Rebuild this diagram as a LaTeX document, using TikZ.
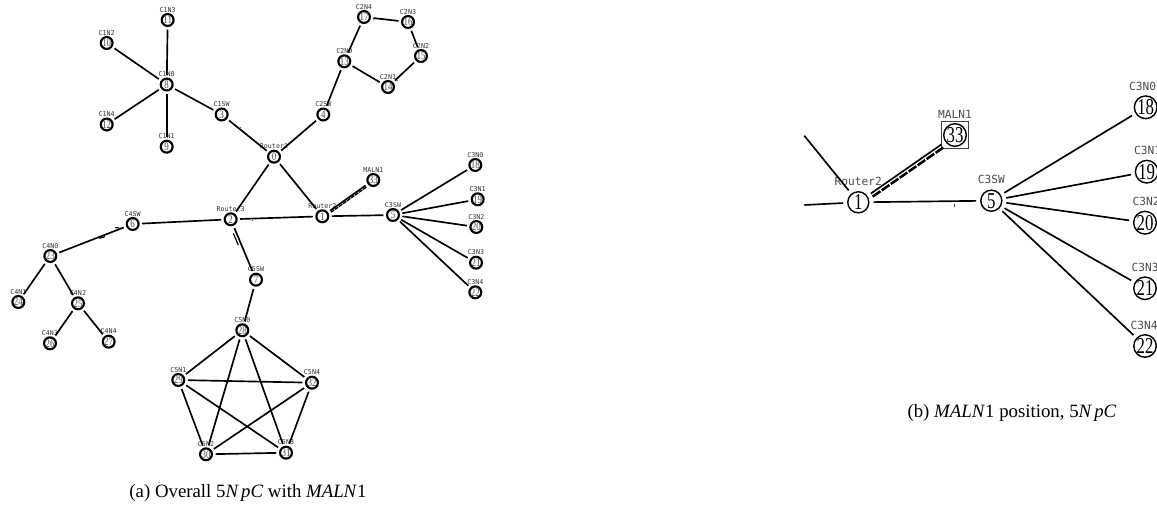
\documentclass[tikz,border=0pt]{standalone}
\usepackage{fontspec}
\setmainfont{Liberation Serif}
\newfontfamily\lblfont{DejaVu Sans Mono}
\newfontfamily\numfont{Liberation Serif}
\tikzset{
  x=0.75pt,y=-0.75pt,
  sn/.style={circle,draw=black,line width=1.6pt,fill=white,minimum size=8.9pt,inner sep=0pt,outer sep=2.7pt},
  bn/.style={circle,draw=black,line width=1.05pt,fill=white,minimum size=15.8pt,inner sep=0pt,outer sep=3.5pt},
  edgeline/.style={draw=black,line width=1.25pt},
  bedge/.style={draw=black,line width=1.25pt},
  slab/.style={font=\lblfont\fontsize{5}{5}\selectfont,text=black!80,inner sep=0pt},
  blab/.style={font=\lblfont\fontsize{8.4}{8.4}\selectfont,text=black!70,inner sep=0pt},
  capt/.style={font=\fontsize{14.1}{16}\selectfont,inner sep=0pt},
  speck/.style={draw=black!75,line width=0.45pt},
}
\newcommand{\sd}[1]{\fontsize{8.6}{8.6}\numfont\textcolor{black!70}{\scalebox{0.78}[1]{#1}}}
\newcommand{\bd}[1]{\fontsize{17}{17}\numfont\scalebox{0.74}[1]{#1}}
\newcommand{\SN}[5]{\node[sn] (#1) at (#2,#3) {\sd{#4}};
  \node[slab] (L#1) at (#2,#3-10.3) {#5};}
\newcommand{\BN}[6]{\node[bn] (#1) at (#2,#3) {\bd{#4}};
  \node[blab] (L#1) at (#2+#6,#3-21) {#5};}
\begin{document}
\begin{tikzpicture}
\useasboundingbox (0,0) rectangle (1157,506);
\clip (0,0) rectangle (1157,506);
% ---- panel (a) ----
\SN{a0}{274}{156.7}{0}{Router1}
\SN{a1}{322.3}{216.3}{1}{Router2}
\SN{a2}{230.7}{219.3}{2}{Router3}
\SN{a3}{221.7}{114.5}{3}{C1SW}
\SN{a4}{323.3}{114.5}{4}{C2SW}
\SN{a5}{393}{215}{5}{C3SW}
\SN{a6}{132.7}{224}{6}{C4SW}
\SN{a7}{256}{279.7}{7}{C5SW}
\SN{a8}{166.7}{84.5}{8}{C1N0}
\SN{a9}{166.7}{146.7}{9}{C1N1}
\SN{a10}{106.7}{43}{10}{C1N2}
\SN{a11}{167.7}{20}{11}{C1N3}
\SN{a12}{106.7}{124.5}{12}{C1N4}
\SN{a13}{344.3}{61.3}{13}{C2N0}
\SN{a14}{388}{87}{14}{C2N1}
\SN{a15}{421}{56}{15}{C2N2}
\SN{a16}{408}{22}{16}{C2N3}
\SN{a17}{364}{17}{17}{C2N4}
\SN{a18}{475.3}{165}{18}{C3N0}
\SN{a19}{477.7}{199.3}{19}{C3N1}
\SN{a20}{476.3}{227}{20}{C3N2}
\SN{a21}{476}{262.7}{21}{C3N3}
\SN{a22}{475.3}{292.3}{22}{C3N4}
\SN{a23}{50.3}{256}{23}{C4N0}
\SN{a24}{18.3}{302}{24}{C4N1}
\SN{a25}{78}{303.3}{25}{C4N2}
\SN{a26}{50}{343.3}{26}{C4N3}
\SN{a27}{108.7}{341.7}{27}{C4N4}
\SN{a28}{242.3}{330.3}{28}{C5N0}
\SN{a29}{178.3}{380}{29}{C5N1}
\SN{a30}{206}{454.3}{30}{C5N2}
\SN{a31}{286}{452.7}{31}{C5N3}
\SN{a32}{312}{382.7}{32}{C5N4}
\SN{a33}{373.3}{180}{33}{MALN1}
\foreach \u/\v in {a0/a1,a0/a2,a0/a3,a0/a4,a1/a2,a1/a5,a1/a33,a2/a6,a2/a7,
  a3/a8,a4/a13,a5/a18,a5/a19,a5/a20,a5/a21,a5/a22,a6/a23,a7/a28,
  a8/a9,a8/a10,a8/a11,a8/a12,a13/a14,a13/a17,a14/a15,a15/a16,a16/a17,
  a23/a24,a23/a25,a25/a26,a25/a27,
  a28/a29,a28/a30,a28/a31,a28/a32,a29/a30,a29/a31,a29/a32,a30/a31,a30/a32,a31/a32}
  {\draw[edgeline] (\u) -- (\v);}
\draw[edgeline,dash pattern=on 3pt off 0.7pt,line width=1pt,transform canvas={xshift=0.7pt,yshift=-1.1pt}] (a1) -- (a33);
\coordinate (p1) at (233.3,233.3); \coordinate (p2) at (238.3,245);
\draw[edgeline,line width=0.9pt] (p1) -- (p2);
\coordinate (p3) at (115,227.5); \coordinate (p4) at (119,228);
\draw[edgeline,line width=0.9pt] (p3) -- (p4);
\coordinate (p5) at (99.3,238.3); \coordinate (p6) at (105,236.7);
\draw[edgeline,line width=0.9pt] (p5) -- (p6);
\coordinate (p7) at (252.3,220.5); \coordinate (p8) at (252.3,221.5);
\draw[speck] (p7) -- (p8);
\coordinate (p9) at (240,127); \coordinate (p10) at (241,128);
\draw[speck] (p9) -- (p10);
\coordinate (p13) at (373,18); \coordinate (p14) at (374,20);
\draw[speck] (p13) -- (p14);
\coordinate (p15) at (396,80); \coordinate (p16) at (398,81);
\draw[speck] (p15) -- (p16);
\node[capt,anchor=base] (capa) at (248,497) {(a) Overall 5\textit{N\,pC} with \textit{MALN}1};
% ---- panel (b) ----
\BN{b1}{858.3}{202.3}{1}{Router2}{0}
\BN{b5}{991.3}{200.7}{5}{C3SW}{0}
\BN{b33}{955}{135}{33}{MALN1}{0}
\BN{b18}{1145.7}{107.3}{18}{C3N0}{-3}
\BN{b19}{1146.7}{171.7}{19}{C3N1}{1}
\BN{b20}{1145}{222.7}{20}{C3N2}{1}
\BN{b21}{1145}{288.3}{21}{C3N3}{0}
\BN{b22}{1145}{346}{22}{C3N4}{-1}
\node[draw=black!75,line width=0.5pt,minimum size=20.7pt,inner sep=0pt,outer sep=0pt] (box33) at (b33) {};
\foreach \v in {b18,b19,b20,b21,b22}{\draw[bedge] (b5) -- (\v);}
\draw[bedge] (b1) -- (b5);
\draw[bedge] (b1) -- (box33);
\draw[bedge,line width=1.9pt,dash pattern=on 7pt off 1.2pt,transform canvas={xshift=1.5pt,yshift=-2.2pt}] (b1) -- (box33);
\coordinate (c1) at (804.3,135.7);
\coordinate (c2) at (804.3,205);
\draw[bedge] (c1) -- (b1);
\draw[bedge] (c2) -- (b1);
\coordinate (p11) at (954,204); \coordinate (p12) at (954,207);
\draw[speck] (p11) -- (p12);
\node[capt,anchor=base] (capb) at (1012,417) {(b) \textit{MALN}1 position, 5\textit{N\,pC}};
\end{tikzpicture}
\end{document}
